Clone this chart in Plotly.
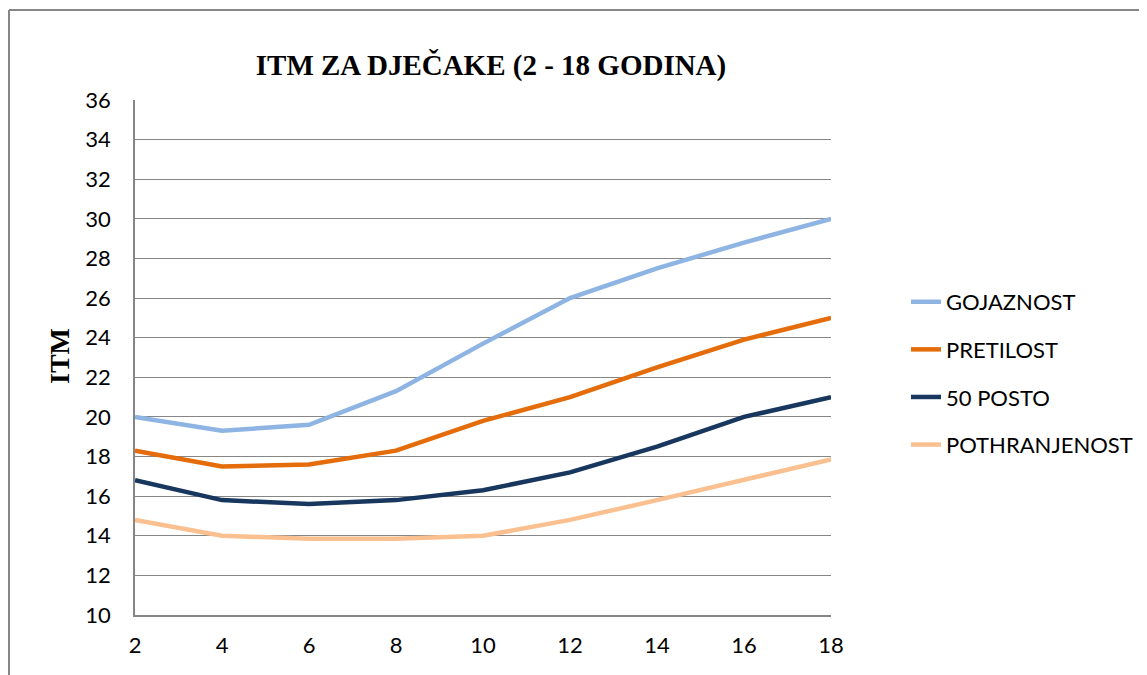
import plotly.graph_objects as go

ages = [2, 4, 6, 8, 10, 12, 14, 16, 18]
gojaznost = [20.0, 19.3, 19.6, 21.3, 23.7, 26.0, 27.5, 28.8, 30.0]
pretilost = [18.3, 17.5, 17.6, 18.3, 19.8, 21.0, 22.5, 23.9, 25.0]
posto50 = [16.8, 15.8, 15.6, 15.8, 16.3, 17.2, 18.5, 20.0, 21.0]
pothranjenost = [14.8, 14.0, 13.85, 13.85, 14.0, 14.8, 15.8, 16.85, 17.85]

series = [
    ("GOJAZNOST", gojaznost, "#8DB4E2"),
    ("PRETILOST", pretilost, "#E46C0A"),
    ("50 POSTO", posto50, "#17375E"),
    ("POTHRANJENOST", pothranjenost, "#FAC090"),
]

SANS = "Lato, sans-serif"
SERIF = "Liberation Serif, Times New Roman, serif"

fig = go.Figure()
for name, vals, col in series:
    fig.add_trace(go.Scatter(x=ages, y=vals, mode="lines", name=name,
                             legendgroup=name,
                             line=dict(color=col, width=4.5)))

L, R, T, B = 127, 324, 92, 68
PW = 1147 - L - R
PH = 675 - T - B

fig.update_layout(
    width=1147, height=675,
    margin=dict(l=L, r=R, t=T, b=B),
    plot_bgcolor="white", paper_bgcolor="white",
    title=dict(text="<b>ITM ZA DJEČAKE (2 - 18 GODINA)</b>",
               x=483 / 1147, xanchor="center", y=1 - 57 / 675, yanchor="middle",
               font=dict(family=SERIF, size=29, color="black")),
    legend=dict(x=(898 - L) / PW, xanchor="left", y=0.469, yanchor="middle",
                font=dict(family=SANS, size=22, color="black"),
                tracegroupgap=16, traceorder="grouped"),
    showlegend=True,
)
fig.update_xaxes(range=[2, 18], tickvals=ages, showgrid=False,
                 showline=True, linecolor="#868686", linewidth=1.5,
                 ticks="", ticklen=0, ticklabelstandoff=10,
                 tickfont=dict(family=SANS, size=22, color="black"))
fig.update_yaxes(range=[10, 36], dtick=2, showgrid=True, gridcolor="#868686", gridwidth=1,
                 showline=True, linecolor="#868686", linewidth=1.5, zeroline=False,
                 ticks="", ticklen=0, ticklabelstandoff=18,
                 tickfont=dict(family=SANS, size=22, color="black"))

fig.add_annotation(text="<b>ITM</b>", xref="paper", yref="paper",
                   x=(51 - L) / PW, y=(607 - 348) / PH, xanchor="center", yanchor="middle",
                   textangle=-90, showarrow=False,
                   font=dict(family=SERIF, size=28, color="black"))

# outer chart border (left and top edges visible)
xl = (1 - L) / PW
yt = (607 - 2) / PH
fig.add_shape(type="line", xref="paper", yref="paper", x0=xl, x1=xl, y0=-0.3, y1=yt,
              line=dict(color="#868686", width=2))
fig.add_shape(type="line", xref="paper", yref="paper", x0=xl, x1=1.6, y0=yt, y1=yt,
              line=dict(color="#868686", width=2))

fig.write_html("out.html")
